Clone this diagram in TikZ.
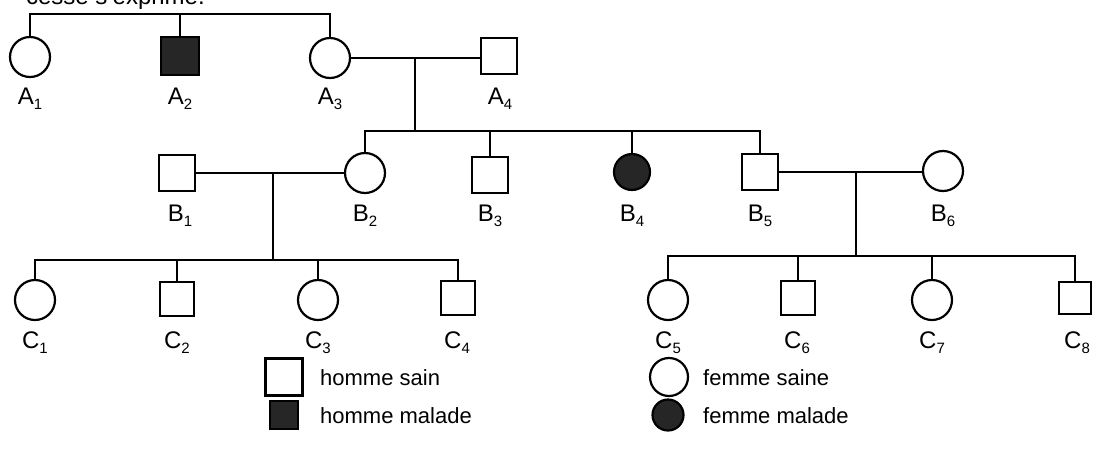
\documentclass[tikz,border=0pt]{standalone}
\usepackage{fontspec}
\setmainfont{Liberation Sans}
\newcommand\idx[2]{#1\raisebox{-5pt}{\fontsize{15}{15}\selectfont #2}}
\tikzset{
  line/.style={line width=2.2pt},
  male/.style={draw, line width=2.2pt, rectangle, minimum size=36pt, inner sep=0pt},
  female/.style={draw, line width=2.2pt, circle, minimum size=40pt, inner sep=0pt},
  sick/.style={fill=black!85},
  lab/.style={font=\fontsize{24}{26}\selectfont, anchor=base, inner sep=0pt},
  leg/.style={font=\fontsize{22}{24}\selectfont, anchor=base west, inner sep=0pt}
}
\begin{document}
\begin{tikzpicture}[x=1pt,y=-1pt]
\useasboundingbox (0,0) rectangle (1105,456);
% cut-off text at top
\node[anchor=base east, font=\fontsize{24}{26}\selectfont, inner sep=0pt] (head) at (205,4) {cesse s'exprime.};
% generation A
\node[female] (A1) at (30,57) {};
\node[male, sick, minimum size=38pt] (A2) at (180,56) {};
\node[female] (A3) at (330,58) {};
\node[male] (A4) at (499,56) {};
\node[lab] (lA1) at (30,104) {\idx{A}{1}};
\node[lab] (lA2) at (180,104) {\idx{A}{2}};
\node[lab] (lA3) at (330,104) {\idx{A}{3}};
\node[lab] (lA4) at (500,104) {\idx{A}{4}};
\coordinate (topA) at (180,14);
\coordinate (m1) at (415,58);
\coordinate (sB) at (415,131);
% generation B
\node[male] (B1) at (177,173) {};
\node[female] (B2) at (365,173) {};
\node[male] (B3) at (490,175) {};
\node[female, sick, minimum size=36pt] (B4) at (632,172) {};
\node[male] (B5) at (760,172) {};
\node[female] (B6) at (943,171) {};
\node[lab] (lB1) at (180,221) {\idx{B}{1}};
\node[lab] (lB2) at (365,221) {\idx{B}{2}};
\node[lab] (lB3) at (490,221) {\idx{B}{3}};
\node[lab] (lB4) at (632,221) {\idx{B}{4}};
\node[lab] (lB5) at (760,221) {\idx{B}{5}};
\node[lab] (lB6) at (943,221) {\idx{B}{6}};
\coordinate (m2) at (273,173);
\coordinate (sC1) at (273,260);
\coordinate (m3) at (856,172);
\coordinate (sC2) at (856,256);
% generation C
\node[female] (C1) at (35,300) {};
\node[male, minimum size=34pt] (C2) at (177,299) {};
\node[female] (C3) at (318,300) {};
\node[male, minimum size=34pt] (C4) at (458,298) {};
\node[female] (C5) at (668,300) {};
\node[male, minimum size=34pt] (C6) at (798,298) {};
\node[female] (C7) at (932,300) {};
\node[male, minimum size=32pt] (C8) at (1075,298) {};
\node[lab] (lC1) at (35,348) {\idx{C}{1}};
\node[lab] (lC2) at (177,348) {\idx{C}{2}};
\node[lab] (lC3) at (318,348) {\idx{C}{3}};
\node[lab] (lC4) at (457,348) {\idx{C}{4}};
\node[lab] (lC5) at (668,348) {\idx{C}{5}};
\node[lab] (lC6) at (797,348) {\idx{C}{6}};
\node[lab] (lC7) at (932,348) {\idx{C}{7}};
\node[lab] (lC8) at (1077,348) {\idx{C}{8}};
% connectors
\draw[line] (A1.north) |- (topA) -| (A3.north);
\draw[line] (A2.north) -- (topA);
\draw[line] (A3.east) -- (A3.east -| A4.west);
\draw[line] (m1) -- (sB);
\draw[line] (B2.north) |- (sB) -| (B5.north);
\draw[line] (B3.north) -- (B3.north |- sB);
\draw[line] (B4.north) -- (B4.north |- sB);
\draw[line] (B1.east) -- (B2.west);
\draw[line] (m2) -- (sC1);
\draw[line] (C1.north) |- (sC1) -| (C4.north);
\draw[line] (C2.north) -- (C2.north |- sC1);
\draw[line] (C3.north) -- (C3.north |- sC1);
\draw[line] (B5.east) -- (B5.east -| B6.west);
\draw[line] (m3) -- (sC2);
\draw[line] (C5.north) |- (sC2) -| (C8.north);
\draw[line] (C6.north) -- (C6.north |- sC2);
\draw[line] (C7.north) -- (C7.north |- sC2);
% legend
\node[male, minimum size=37pt] (L1) at (284,377) {};
\node[male, sick, minimum size=28pt] (L2) at (284,415) {};
\node[female, minimum size=38pt] (L3) at (669,377) {};
\node[female, sick, minimum size=31pt] (L4) at (668,415) {};
\node[leg] (t1) at (320,385) {homme sain};
\node[leg] (t2) at (320,423) {homme malade};
\node[leg] (t3) at (703,385) {femme saine};
\node[leg] (t4) at (703,423) {femme malade};
\end{tikzpicture}
\end{document}
